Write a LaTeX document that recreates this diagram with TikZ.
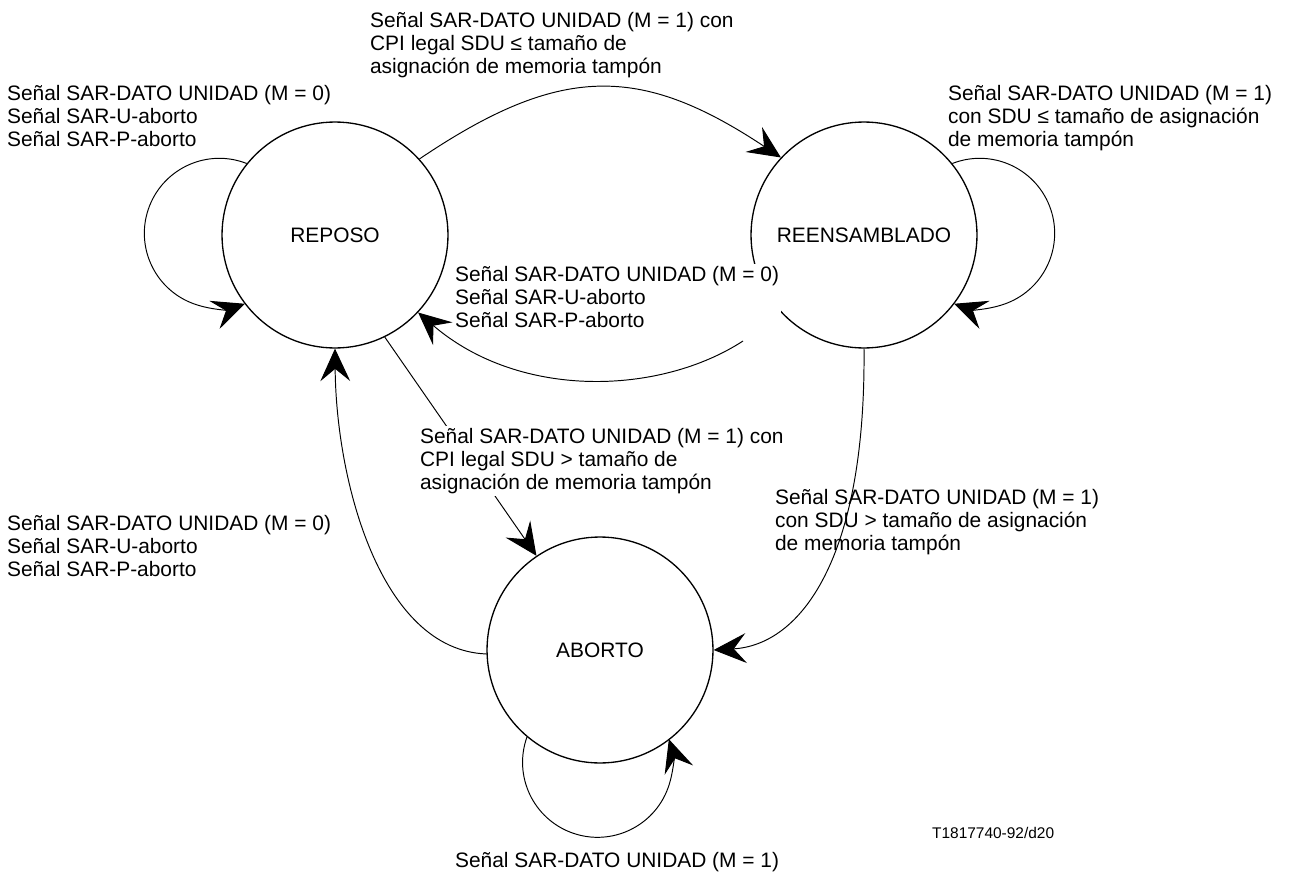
\documentclass[tikz,border=0pt]{standalone}
\usepackage{fontspec}
\setmainfont{Liberation Sans}
\usetikzlibrary{arrows.meta}
\begin{document}
\begin{tikzpicture}[x=0.02cm,y=0.02cm,
  state/.style={circle, draw, line width=0.75pt, minimum size=4.52cm, inner sep=0pt,
    font=\fontsize{11.9}{13.3}\selectfont},
  trans/.style={line width=0.55pt, -{Stealth[length=18.5pt,width=17pt,inset=7pt]}},
  lbl/.style={anchor=north west, align=left, inner sep=1pt,
    font=\fontsize{11.9}{13.3}\selectfont},
  masklbl/.style={lbl, fill=white},
]
\useasboundingbox (0,0) rectangle (1302,-875);

% states
\node[state] (R) at (335,-235) {REPOSO};
\node[state] (E) at (864,-235) {REENSAMBLADO};
\node[state] (A) at (600,-650) {ABORTO};

% self loops
\draw[trans] (R.141) arc[start angle=68.6, end angle=290, radius=1.5cm];
\draw[trans] (E.39) arc[start angle=111.4, end angle=-110, radius=1.5cm];
\draw[trans] (A.230) arc[start angle=160.3, end angle=378, radius=1.5cm];

% transitions between states
\draw[trans] (R.42.5) .. controls (560,-64) and (640,-64) .. (E.137.5);
\coordinate (ErStart) at (743,-341);
\draw[trans] (ErStart) .. controls (660,-395) and (520,-400) .. (R.-43);
\draw[trans] (R.-64.5) -- (A.124);
\draw[trans] (A.182) .. controls (380,-650) and (336,-480) .. (R.-90);
\draw[trans] (E.-90) .. controls (866,-560) and (800,-645) .. (A.0);

% transition labels
\node[lbl] (lRE) at (368,-10) {Señal SAR-DATO UNIDAD (M = 1) con\\CPI legal SDU ≤ tamaño de\\asignación de memoria tampón};
\node[lbl] (lRR) at (5,-83) {Señal SAR-DATO UNIDAD (M = 0)\\Señal SAR-U-aborto\\Señal SAR-P-aborto};
\node[lbl] (lEE) at (946,-83) {Señal SAR-DATO UNIDAD (M = 1)\\con SDU ≤ tamaño de asignación\\de memoria tampón};
\node[masklbl] (lER) at (453,-264) {Señal SAR-DATO UNIDAD (M = 0)\\Señal SAR-U-aborto\\Señal SAR-P-aborto};
\node[masklbl] (lRA) at (418,-426) {Señal SAR-DATO UNIDAD (M = 1) con\\CPI legal SDU > tamaño de\\asignación de memoria tampón};
\node[lbl] (lAR) at (5,-513) {Señal SAR-DATO UNIDAD (M = 0)\\Señal SAR-U-aborto\\Señal SAR-P-aborto};
\node[lbl] (lEA) at (773,-487) {Señal SAR-DATO UNIDAD (M = 1)\\con SDU > tamaño de asignación\\de memoria tampón};
\node[lbl] (lAA) at (453,-850) {Señal SAR-DATO UNIDAD (M = 1)};

% figure reference
\node[anchor=north west, inner sep=1pt, font=\fontsize{8.8}{10}\selectfont] (ref) at (930,-825) {T1817740-92/d20};
\end{tikzpicture}
\end{document}
